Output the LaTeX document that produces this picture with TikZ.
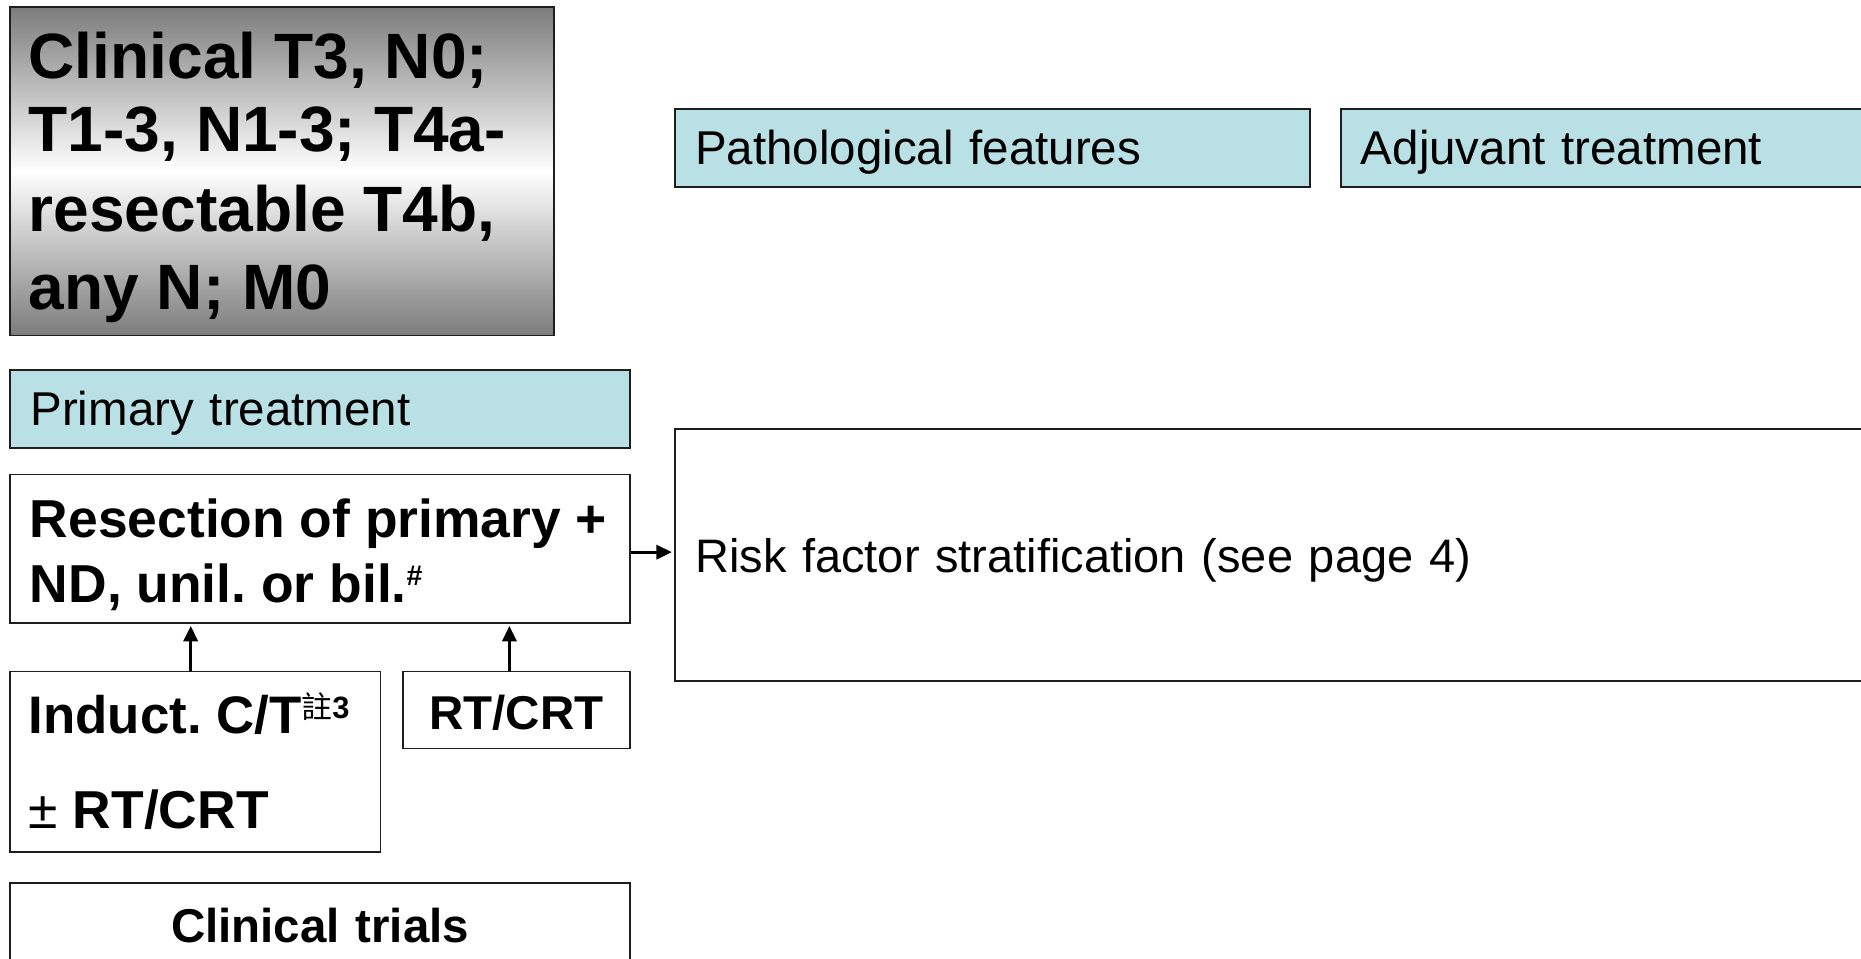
\documentclass[tikz,border=0pt]{standalone}
\usepackage{fontspec}
\setmainfont{Liberation Sans}
\newfontfamily\cjkfont{Noto Sans CJK TC}
\usetikzlibrary{arrows.meta}
\definecolor{hdrcyan}{RGB}{185,224,228}
\definecolor{edgecol}{RGB}{30,30,30}
\definecolor{titlegray}{RGB}{124,124,124}
\frenchspacing
\begin{document}
\begin{tikzpicture}[x=1pt,y=-1pt,
  box/.style={draw=edgecol, line width=1.4pt, rectangle, inner sep=0pt, anchor=north west},
  hdr/.style={box, fill=hdrcyan, inner xsep=17pt, align=left, text height=28pt, text depth=0pt,
              font=\fontsize{40}{48}\selectfont},
  titletxt/.style={anchor=base west, inner sep=0pt, font=\fontsize{54}{62}\selectfont\bfseries},
  boldtxt/.style={anchor=base west, inner sep=0pt, font=\fontsize{45}{54}\selectfont\bfseries},
  conn/.style={line width=2.5pt, -{Triangle[length=13pt,width=12pt]}, shorten >=2pt}]
\useasboundingbox (0,0) rectangle (1568,808);
\clip (0,0) rectangle (1568,808);

% condition box with gradient
\node[box, minimum width=458pt, minimum height=277pt,
      top color=titlegray, bottom color=titlegray, middle color=white] (cond) at (8,5) {};
\node[titletxt] (condA) at (24,66)  {Clinical T3, N0;};
\node[titletxt] (condB) at (24,128) {T1-3, N1-3; T4a-};
\node[titletxt] (condC) at (24,195) {resectable T4b,};
\node[titletxt] (condD) at (24,261) {any N; M0};

% header boxes
\node[hdr, text width=501pt, minimum height=66pt] (path) at (568,91) {Pathological features};
\node[hdr, text width=437pt, minimum height=66pt] (adj) at (1129,91) {Adjuvant treatment};
\node[hdr, text width=488pt, minimum height=66pt] (prim) at (8,311) {Primary treatment};

% resection
\node[box, minimum width=522pt, minimum height=125pt] (resect) at (8,399) {};
\node[boldtxt] (resA) at (25,453) {Resection of primary +};
\node[boldtxt] (resB) at (25,508) {ND, unil. or bil.\raisebox{15pt}{\fontsize{24}{24}\selectfont\#}};

% risk stratification
\node[box, inner xsep=17pt, text width=998pt, minimum height=212pt, align=left,
      text height=30pt, text depth=0pt, font=\fontsize{39.6}{48}\selectfont] (risk) at (568,361)
      {Risk factor stratification (see page 4)};

% induction
\node[box, minimum width=312pt, minimum height=152pt] (induct) at (8,565) {};
\node[boldtxt, font=\fontsize{44.5}{52}\selectfont\bfseries] (indA) at (24,618)
      {Induct. C/T\raisebox{13pt}{\fontsize{26}{26}\selectfont{\cjkfont\mdseries 註}3}};
\node[boldtxt] (indB) at (24,698) {{\mdseries ±} RT/CRT};

% RT/CRT
\node[box, inner xsep=17pt, text width=157pt, minimum height=65pt, align=center,
      text height=33pt, text depth=0pt, font=\fontsize{40}{48}\selectfont\bfseries] (rtcrt) at (339,565) {RT/CRT};

% clinical trials
\node[box, inner xsep=17pt, text width=488pt, minimum height=87pt, align=center,
      text height=28pt, text depth=15pt, font=\fontsize{40}{48}\selectfont\bfseries] (trials) at (8,743) {Clinical trials};

% connectors
\draw[conn] ([xshift=-4pt]induct.north) -- ([xshift=-4pt]induct.north |- resect.south);
\draw[conn] ([xshift=-6pt]rtcrt.north) -- ([xshift=-6pt]rtcrt.north |- resect.south);
\draw[conn] ([yshift=-3pt]resect.east) -- ([yshift=-3pt]resect.east -| risk.west);
\end{tikzpicture}
\end{document}
